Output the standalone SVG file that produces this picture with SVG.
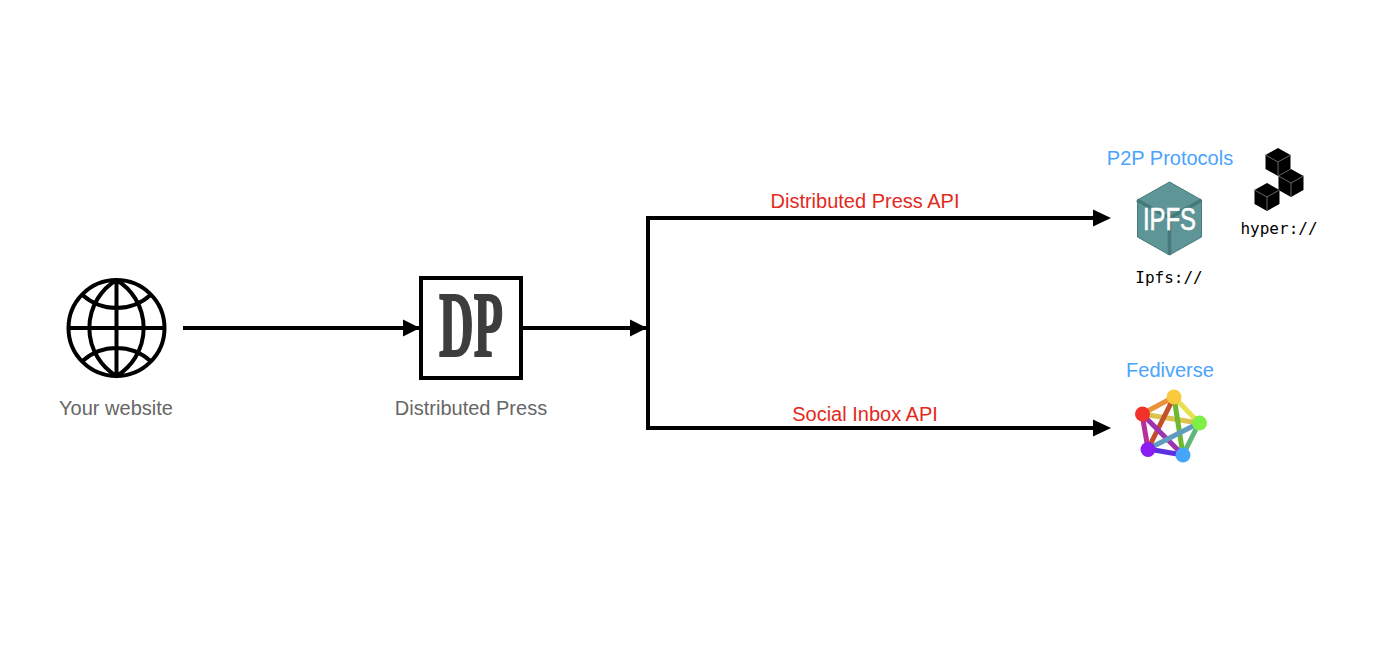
<svg xmlns="http://www.w3.org/2000/svg" width="1400" height="650" viewBox="0 0 1400 650">
<defs>
<marker id="ah" markerUnits="userSpaceOnUse" markerWidth="18" markerHeight="18" refX="17" refY="9" orient="auto"><path d="M0 0.500 L17 9 L0 17.500 Z" fill="#000"/></marker>
<g id="cube"><path d="M0 -14 L12.500 -7 V7 L0 14 L-12.500 7 V-7 Z" fill="#000"/><path d="M-12.500 -7 L0 0 L12.500 -7 M0 0 V14" fill="none" stroke="#666" stroke-width="1"/></g>
</defs>
<style>
.lab{font-family:"Liberation Sans",Arial,sans-serif;font-size:20px;text-anchor:middle}
.grey{fill:#666}
.red{fill:#e3291c}
.blue{fill:#4aa3ff}
.mono{font-family:"DejaVu Sans Mono",monospace;font-size:16px;fill:#000;text-anchor:middle}
.conn{fill:none;stroke:#000;stroke-width:4}
.g{fill:none;stroke:#000;stroke-width:4}
.fl{stroke-width:5;fill:none}
</style>
<rect width="1400" height="650" fill="#fff"/>
<g id="connectors">
<path class="conn" d="M183 328 H420" marker-end="url(#ah)"/>
<path class="conn" d="M523 328 H647" marker-end="url(#ah)"/>
<path class="conn" d="M1100 218 H648 V428 H1100"/>
<path d="M1093 209.500 L1111 218 L1093 226.500 Z M1093 419.500 L1111 428 L1093 436.500 Z" fill="#000"/>
<text class="lab red" x="865" y="208">Distributed Press API</text>
<text class="lab red" x="865" y="421">Social Inbox API</text>
</g>
<g id="website">
<circle class="g" cx="116.500" cy="328" r="48"/>
<path class="g" d="M116.500 280 A56 56 0 0 0 116.500 376 A56 56 0 0 0 116.500 280 M68.500 328 H164.500 M116.500 280 V376 M82.500 295 A51 51 0 0 0 150.500 295 M82.500 361 A51 51 0 0 1 150.500 361"/>
<text class="lab grey" x="116" y="415">Your website</text>
</g>
<g id="distributed-press">
<rect x="421" y="278" width="100" height="100" fill="#fff" stroke="#000" stroke-width="4"/>
<text x="471" y="356" font-family="Liberation Serif,serif" font-weight="bold" font-size="94" fill="#3d3d3d" stroke="#3d3d3d" stroke-width="2" text-anchor="middle" textLength="64" lengthAdjust="spacingAndGlyphs">DP</text>
<text class="lab grey" x="471" y="415">Distributed Press</text>
</g>
<g id="p2p-title"><text class="lab blue" x="1170" y="165">P2P Protocols</text></g>
<g id="ipfs">
<path d="M1169.500 182 L1201.500 200 V237 L1169.500 255 L1137.500 237 V200 Z" fill="#5e9597" stroke="#47797b" stroke-width="1"/>
<path d="M1137 200 L1169.500 218 L1201.500 200 M1169.500 218 V255" fill="none" stroke="#47797b" stroke-width="3.500"/>
<text x="1169.500" y="230" font-family="Liberation Sans,sans-serif" font-size="31" fill="#fff" stroke="#fff" stroke-width="0.600" text-anchor="middle" textLength="53" lengthAdjust="spacingAndGlyphs">IPFS</text>
<text class="mono" x="1169" y="283">Ipfs://</text>
</g>
<g id="hyper">
<use href="#cube" x="1278" y="162"/>
<use href="#cube" x="1291" y="183"/>
<use href="#cube" x="1267" y="197"/>
<text class="mono" x="1279" y="234">hyper://</text>
</g>
<g id="fediverse">
<text class="lab blue" x="1170" y="377">Fediverse</text>
<g class="fl">
<path d="M1142 414 L1174 397" stroke="#e8933c"/>
<path d="M1174 397 L1199 423" stroke="#e8e04e"/>
<path d="M1199 423 L1183 455" stroke="#5fb87a"/>
<path d="M1183 455 L1148 449" stroke="#5a30e0"/>
<path d="M1148 449 L1142 414" stroke="#b5309c"/>
<path d="M1142 414 L1199 423" stroke="#dcc24e"/>
<path d="M1174 397 L1183 455" stroke="#6cb82e"/>
<path d="M1174 397 L1148 449" stroke="#c4502a"/>
<path d="M1142 414 L1183 455" stroke="#9c33b0"/>
<path d="M1199 423 L1148 449" stroke="#5f9cc0"/>
</g>
<circle cx="1174" cy="397" r="7.500" fill="#fbc93e"/>
<circle cx="1142.500" cy="414" r="7.500" fill="#f0322a"/>
<circle cx="1199.500" cy="423" r="7.500" fill="#7fef45"/>
<circle cx="1148" cy="449.500" r="7.500" fill="#8a1cf5"/>
<circle cx="1183" cy="455" r="7.500" fill="#45a5fb"/>
</g>
</svg>
